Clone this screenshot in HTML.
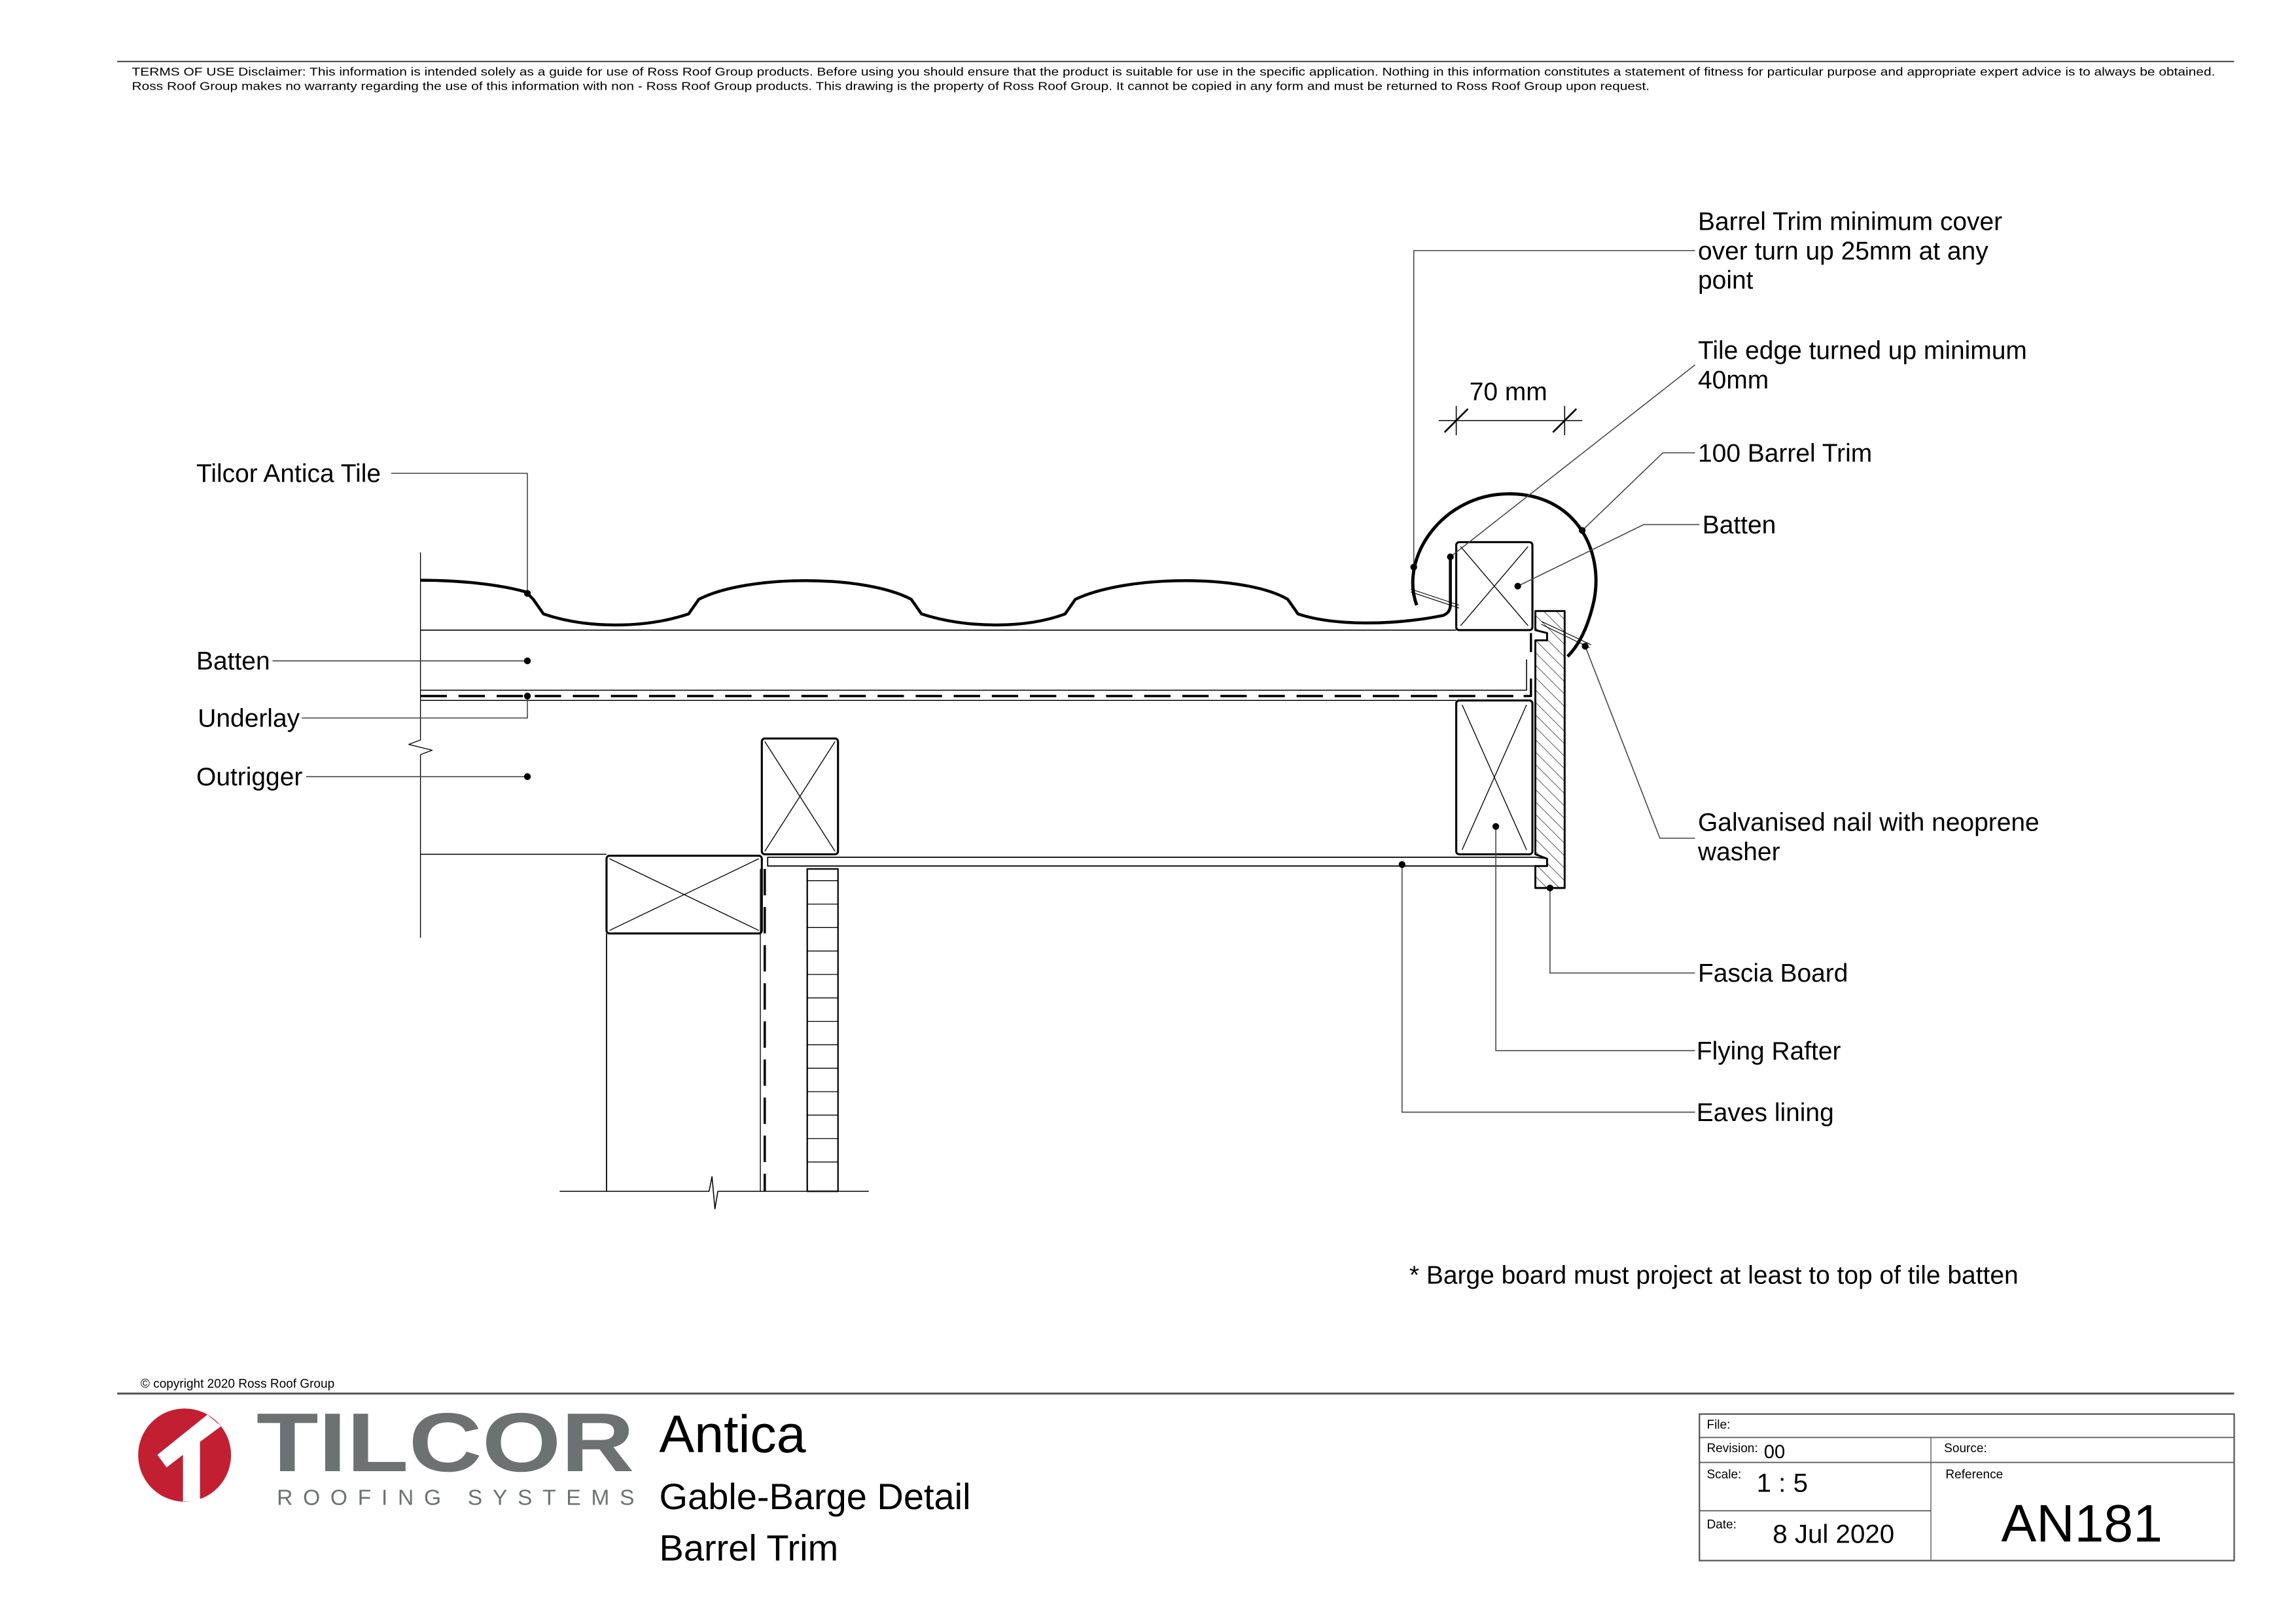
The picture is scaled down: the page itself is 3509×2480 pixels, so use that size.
<!DOCTYPE html>
<html><head><meta charset="utf-8"><style>
html,body{margin:0;padding:0;background:#fff}
svg{display:block}
text{font-family:"Liberation Sans",Arial,sans-serif;fill:#000}
</style></head><body>
<svg width="3509" height="2480" viewBox="0 0 1567.2 1107.6" preserveAspectRatio="none" xmlns="http://www.w3.org/2000/svg">
<defs>
<pattern id="hatch" patternUnits="userSpaceOnUse" width="6" height="6" patternTransform="rotate(-45)">
<line x1="0" y1="0" x2="0" y2="6" stroke="#000" stroke-width="0.6"/>
</pattern>
</defs>
<rect width="1567.2" height="1107.6" fill="#fff"/>
<line x1="80" y1="42" x2="1525" y2="42" stroke="#555" stroke-width="1"/>
<text x="90" y="51.5" font-size="8" textLength="1422" lengthAdjust="spacingAndGlyphs">TERMS OF USE Disclaimer: This information is intended solely as a guide for use of Ross Roof Group products. Before using you should ensure that the product is suitable for use in the specific application. Nothing in this information constitutes a statement of fitness for particular purpose and appropriate expert advice is to always be obtained.</text>
<text x="90" y="61.5" font-size="8" textLength="1036" lengthAdjust="spacingAndGlyphs">Ross Roof Group makes no warranty regarding the use of this information with non - Ross Roof Group products. This drawing is the property of Ross Roof Group. It cannot be copied in any form and must be returned to Ross Roof Group upon request.</text>

<g fill="none" stroke="#000" stroke-linejoin="round">
<path d="M287,377 V505 l-8,3 l16,4 l-8,3 V640" stroke-width="0.6"/>
<path d="M287,396 C320,396 345,400 359,404 L364,409 L371,419 C400,429 440,429 470,419 L477,409 C510,392 590,392 622,409 L629,419 C660,429 700,429 727,419 L734,409 C770,392 850,392 879,409 L886,419 C910,427 950,427 985,420 Q990,418 990,413 V378" stroke-width="2"/>
<line x1="287" y1="430" x2="994" y2="430" stroke-width="0.7"/>
<path d="M287,471 H1042 V450" stroke-width="0.7"/>
<line x1="287" y1="475" x2="1042" y2="475" stroke-width="1.6" stroke-dasharray="18,8"/>
<path d="M1045,463 V475 H1040" stroke-width="1.5"/>
<path d="M1045,432 V445" stroke-width="1.5"/>
<line x1="287" y1="478" x2="994" y2="478" stroke-width="0.7"/>
<line x1="287" y1="583" x2="414" y2="583" stroke-width="0.7"/>
<rect x="994" y="370" width="52" height="60" rx="2" stroke-width="1.4"/>
<path d="M997,373 L1043,427 M1043,373 L997,427" stroke-width="0.6"/>
<rect x="994" y="478" width="52" height="105" rx="2" stroke-width="1.4"/>
<path d="M998,481 L1042,580 M1042,481 L998,580" stroke-width="0.6"/>
<rect x="520" y="504" width="52" height="79" rx="2" stroke-width="1.4"/>
<path d="M522,506 L570,581 M570,506 L522,581" stroke-width="0.6"/>
<rect x="414" y="584" width="106" height="53" rx="2" stroke-width="1.4"/>
<path d="M416,586 L518,635 M518,586 L416,635" stroke-width="0.6"/>
<path d="M524,585 H1048 L1056,586 V591 H524 Z" stroke-width="0.8"/>
<path d="M1048,417 H1068 V606 H1048 V591 L1056,591 V586 L1048,583 V437 L1056,437 V432 L1048,430 Z" fill="url(#hatch)" stroke-width="1.3"/>
<path d="M967,413 C955,380 985,337 1030,337 C1075,337 1095,375 1088,410 C1084,428 1078,440 1070,448" stroke-width="2.2"/>
<path d="M963,402 L996,413 M963,404 L996,415" stroke-width="0.5"/>
<path d="M1052,424 L1086,440 M1052,426 L1085,442" stroke-width="0.5"/>
<line x1="414" y1="637" x2="414" y2="813" stroke-width="0.8"/>
<line x1="522" y1="593" x2="522" y2="813" stroke-width="1.6" stroke-dasharray="18,8"/>
<line x1="519" y1="593" x2="519" y2="813" stroke-width="0.6"/>
<rect x="551" y="593" width="21" height="220" stroke-width="1"/>
<path d="M551,601 H572 M551,617 H572 M551,633 H572 M551,649 H572 M551,665 H572 M551,681 H572 M551,697 H572 M551,713 H572 M551,729 H572 M551,745 H572 M551,761 H572 M551,777 H572 M551,793 H572" stroke-width="0.6"/>
<path d="M382,813 H484 l2,-10 l2,22 l2,-12 H593" stroke-width="0.7"/>
</g>

<g fill="none" stroke="#444" stroke-width="0.7">
<path d="M267,323 H360 V405"/>
<path d="M186,451 H360"/>
<path d="M206,490 H360 V475"/>
<path d="M209,530 H360"/>
<path d="M1157,171 H965 V387"/>
<path d="M1157,249 L990,380"/>
<path d="M1157,309 H1135 L1080,362"/>
<path d="M1160,358 H1122 L1036,400"/>
<path d="M1157,572 H1133 L1082,441"/>
<path d="M1157,664 H1058 V606"/>
<path d="M1157,717 H1021 V564"/>
<path d="M1157,759 H957 V590"/>
<path d="M982,287 H1080 M994,277 V297 M1068,277 V297" stroke="#000"/>
<path d="M986,295 L1002,279 M1060,295 L1076,279" stroke="#000" stroke-width="1.2"/>
</g>
<g fill="#000">
<circle cx="360" cy="405" r="2.3"/><circle cx="360" cy="451" r="2.3"/><circle cx="360" cy="475" r="2.3"/><circle cx="360" cy="530" r="2.3"/>
<circle cx="965" cy="387" r="2.3"/><circle cx="990" cy="380" r="2.3"/><circle cx="1080" cy="362" r="2.3"/><circle cx="1036" cy="400" r="2.3"/>
<circle cx="1082" cy="441" r="2.3"/><circle cx="1058" cy="606" r="2.3"/><circle cx="1021" cy="564" r="2.3"/><circle cx="957" cy="590" r="2.3"/>
</g>

<g font-size="17.4">
<text x="134" y="329">Tilcor Antica Tile</text>
<text x="134" y="457">Batten</text>
<text x="135" y="496">Underlay</text>
<text x="134" y="536">Outrigger</text>
<text x="1159" y="157">Barrel Trim minimum cover</text>
<text x="1159" y="177">over turn up 25mm at any</text>
<text x="1159" y="197">point</text>
<text x="1159" y="245">Tile edge turned up minimum</text>
<text x="1159" y="265">40mm</text>
<text x="1159" y="315">100 Barrel Trim</text>
<text x="1162" y="364">Batten</text>
<text x="1159" y="567">Galvanised nail with neoprene</text>
<text x="1159" y="587">washer</text>
<text x="1159" y="670">Fascia Board</text>
<text x="1158" y="723">Flying Rafter</text>
<text x="1158" y="765">Eaves lining</text>
<text x="1003" y="273">70 mm</text>
<text x="962" y="876">* Barge board must project at least to top of tile batten</text>
</g>

<text x="96" y="947" font-size="8.5">© copyright 2020 Ross Roof Group</text>
<line x1="80" y1="951" x2="1525" y2="951" stroke="#555" stroke-width="1.3"/>
<ellipse cx="126" cy="993" rx="31.7" ry="31.8" fill="#c21f32"/>
<polygon points="107.4,992.8 141.6,965.4 150.9,973.3 136.5,984 136.5,1024.6 124.9,1024.6 124.9,992.8 113.7,1001.4" fill="#fff"/>
<text x="175" y="1004" font-size="57" font-weight="bold" style="fill:#6d7171" textLength="258" lengthAdjust="spacingAndGlyphs">TILCOR</text>
<text x="189" y="1027" font-size="15" style="fill:#6d7171" textLength="244" lengthAdjust="spacing">ROOFING SYSTEMS</text>
<text x="450" y="991" font-size="36">Antica</text>
<text x="450" y="1030" font-size="25">Gable-Barge Detail</text>
<text x="450" y="1065" font-size="25">Barrel Trim</text>

<g fill="none" stroke="#555">
<rect x="1160" y="965" width="365" height="100" stroke-width="1"/>
<line x1="1160" y1="981" x2="1525" y2="981" stroke-width="0.8"/>
<line x1="1160" y1="998" x2="1525" y2="998" stroke-width="0.8"/>
<line x1="1160" y1="1031" x2="1318" y2="1031" stroke-width="0.8"/>
<line x1="1318" y1="981" x2="1318" y2="1065" stroke-width="0.6"/>
</g>
<g font-size="8.5">
<text x="1165" y="975">File:</text>
<text x="1165" y="991">Revision:</text>
<text x="1327" y="991">Source:</text>
<text x="1165" y="1009">Scale:</text>
<text x="1328" y="1009">Reference</text>
<text x="1165" y="1043">Date:</text>
</g>
<text x="1204" y="995" font-size="13">00</text>
<text x="1199" y="1018" font-size="18">1 : 5</text>
<text x="1210" y="1053" font-size="18">8 Jul 2020</text>
<text x="1366" y="1052" font-size="36">AN181</text>
</svg>
</body></html>
